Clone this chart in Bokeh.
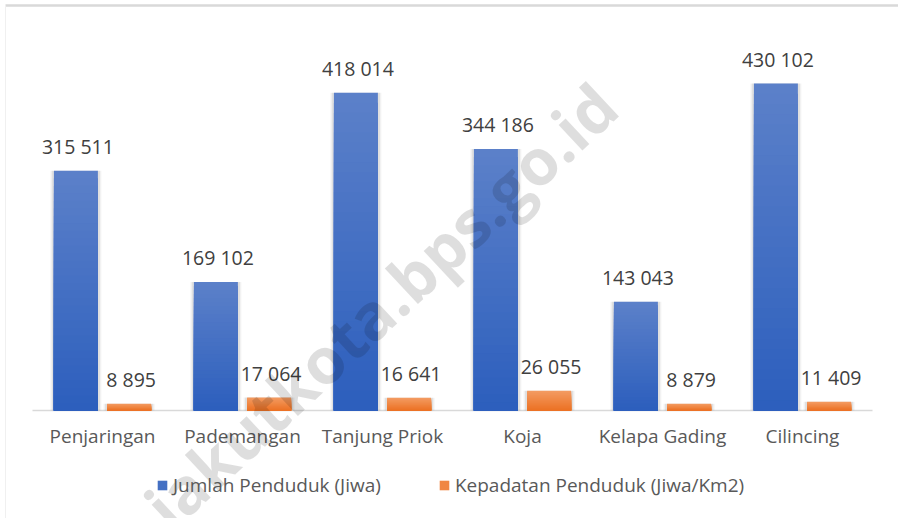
import math
from bokeh.plotting import figure
from bokeh.models import Range1d, ColumnDataSource, Label, Legend, LegendItem, FixedTicker
from bokeh.core.properties import value
from bokeh.embed import file_html
from bokeh.resources import INLINE

categories = ["Penjaringan", "Pademangan", "Tanjung Priok", "Koja", "Kelapa Gading", "Cilincing"]
jumlah = [315511, 169102, 418014, 344186, 143043, 430102]
kepadatan = [8895, 17064, 16641, 26055, 8879, 11409]
series_names = ["Jumlah Penduduk (Jiwa)", "Kepadatan Penduduk (Jiwa/Km2)"]
watermark = "jakutkota.bps.go.id"

W, H = 898, 518
LEFT_PX, RIGHT_PX = 32, 26          # category band edges from page sides
BASE_PX = 410                        # baseline from top
PX_X = (W - LEFT_PX - RIGHT_PX) / len(categories)
PX_Y = 7.6e-4                        # px per data unit

xs = Range1d(-LEFT_PX / PX_X, len(categories) + RIGHT_PX / PX_X)
ys = Range1d(-(H - BASE_PX) / PX_Y, BASE_PX / PX_Y)

p = figure(width=W, height=H, output_backend="svg", toolbar_location=None,
           x_range=xs, y_range=ys, y_axis_location=None, min_border=0)
p.outline_line_color = None
p.xgrid.visible = False
p.ygrid.visible = False
p.background_fill_color = "white"
p.border_fill_color = "white"

BW = 0.314
OFF = 0.19
centers = [i + 0.5 for i in range(len(categories))]


def hex2rgb(h):
    h = h.lstrip("#")
    return tuple(int(h[i:i + 2], 16) for i in (0, 2, 4))


def mix(c1, c2, t):
    a, b = hex2rgb(c1), hex2rgb(c2)
    return "#%02x%02x%02x" % tuple(int(round(a[i] + (b[i] - a[i]) * t)) for i in range(3))


def gradient_bars(vals, offset, ctop, cbot, n=32):
    xpos = [c + offset for c in centers]
    sh = ColumnDataSource(dict(x=xpos, top=vals))
    for extra, alpha in ((0.05, 0.05), (0.03, 0.07)):
        p.vbar(x="x", top="top", bottom=0, width=BW + extra,
               source=sh, fill_color="black", fill_alpha=alpha, line_color=None)
    bx, tops, cols = [], [], []
    for k in range(n):
        frac = 1 - k / n
        col = mix(ctop, cbot, k / (n - 1))
        for x, v in zip(xpos, vals):
            bx.append(x)
            tops.append(v * frac)
            cols.append(col)
    src = ColumnDataSource(dict(x=bx, top=tops, color=cols))
    p.vbar(x="x", top="top", bottom=0, width=BW, source=src, fill_color="color", line_color=None)
    # renderer used only for the legend swatch (zero-height bar outside the view)
    leg = p.vbar(x=[xs.start - 5], top=[0], bottom=[0], width=BW,
                 fill_color=mix(ctop, cbot, 0.5), line_color=None)
    lab = ColumnDataSource(dict(x=xpos, top=vals,
                                txt=[f"{v:,}".replace(",", " ") for v in vals]))
    p.text(x="x", y="top", text="txt", source=lab,
           text_align="center", text_baseline="alphabetic", y_offset=-24, x_offset=2,
           text_font=value("Open Sans"), text_font_size="19.5px", text_color="#404040")
    return leg


# frame decoration lines (top and left border of the chart box)
top_y = (BASE_PX - 5) / PX_Y
left_x = (5 - LEFT_PX) / PX_X
p.segment(x0=[left_x], y0=[top_y], x1=[xs.end + 1], y1=[top_y], line_color="#d9d9d9", line_width=2.5)
p.segment(x0=[left_x], y0=[top_y], x1=[left_x], y1=[ys.start], line_color="#f0f0f0", line_width=1)
# baseline
p.segment(x0=[0], y0=[0], x1=[len(categories)], y1=[0], line_color="#d9d9d9", line_width=1.5)

leg1 = gradient_bars(jumlah, -OFF, "#5b80c9", "#2d5fbd")
leg2 = gradient_bars(kepadatan, OFF, "#f39b62", "#ec7224")

ax = p.xaxis[0]
ax.fixed_location = 0
ax.ticker = FixedTicker(ticks=centers)
ax.major_label_overrides = {c: name for c, name in zip(centers, categories)}
ax.axis_line_color = None
ax.major_tick_line_color = None
ax.minor_tick_line_color = None
ax.major_tick_out = 0
ax.major_tick_in = 0
ax.major_label_standoff = 12
ax.major_label_text_font = "Open Sans"
ax.major_label_text_font_size = "19px"
ax.major_label_text_color = "#595959"

legend = Legend(items=[LegendItem(label=series_names[0], renderers=[leg1]),
                       LegendItem(label=series_names[1], renderers=[leg2])],
                orientation="horizontal", location=(156, 20),
                glyph_width=12, glyph_height=12, label_standoff=5, spacing=57,
                label_text_font="Open Sans", label_text_font_size="19px",
                label_text_color="#595959", label_height=20,
                padding=0, margin=0, border_line_color=None, background_fill_alpha=0)
p.add_layout(legend, "center")

# watermark
wx_px, wy_px = 380, 305
wm = Label(x=(wx_px - LEFT_PX) / PX_X, y=(BASE_PX - wy_px) / PX_Y, text=watermark,
           angle=math.radians(43), text_align="center", text_baseline="middle",
           text_font="Open Sans", text_font_style="bold", text_font_size="64px",
           text_color="black", text_alpha=0.13)
p.add_layout(wm)

open("out.html", "w").write(file_html(p, INLINE))
